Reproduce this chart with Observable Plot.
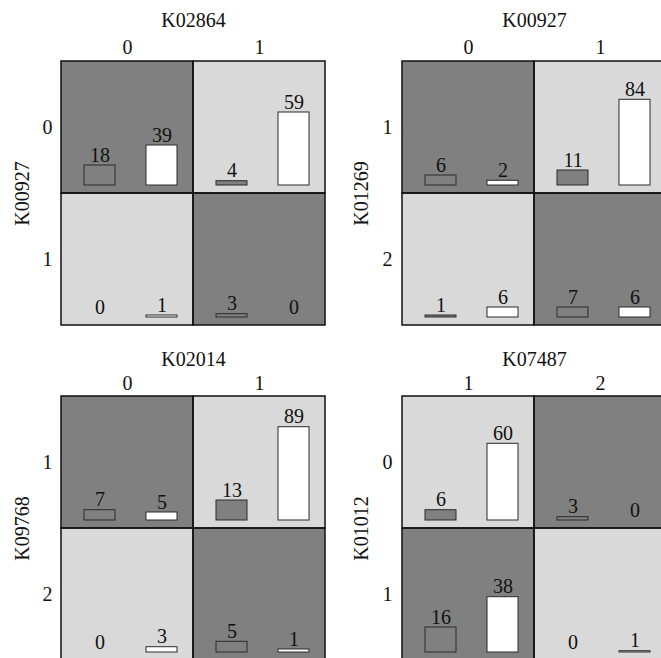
<!DOCTYPE html>
<html><head><meta charset="utf-8">
<script src="https://cdn.jsdelivr.net/npm/d3@7"></script>
<script src="https://cdn.jsdelivr.net/npm/@observablehq/plot@0.6"></script>
<style>
html,body{margin:0;padding:0;overflow:hidden;background:#fff;}
#root{position:relative;width:661px;height:658px;overflow:hidden;}
.panel{position:absolute;width:330px;height:330px;}
.panel svg{max-width:none !important;}
</style></head><body><div id="root"></div>
<script>
// ---- data ----
const colVars = ["K02864", "K00927", "K02014", "K07487"];
const rowVars = ["K00927", "K01269", "K09768", "K01012"];
const colLevels = [["0", "1"], ["0", "1"], ["0", "1"], ["1", "2"]];
const rowLevels = [["0", "1"], ["1", "2"], ["1", "2"], ["0", "1"]];
// cell order within each panel: row0/col0, row0/col1, row1/col0, row1/col1
const grayCounts  = [[18, 4, 0, 3], [6, 11, 1, 7], [7, 13, 0, 5], [6, 3, 16, 0]];
const whiteCounts = [[39, 59, 1, 0], [2, 84, 6, 6], [5, 89, 3, 1], [60, 0, 38, 1]];
// apparent bar lengths as drawn (not proportional to the printed counts)
const grayBarLen  = [[20, 4.3, 0, 3.3], [10, 15, 2, 10], [10.3, 20, 0, 10.7], [10.3, 3.3, 25, 0]];
const whiteBarLen = [[40, 73, 2, 0], [4.7, 85.7, 10, 10], [8, 93.3, 5.3, 3], [76.7, 0, 55.3, 1.3]];
const cellShade = [
  ["dark", "light", "light", "dark"],
  ["dark", "light", "light", "dark"],
  ["dark", "light", "light", "dark"],
  ["light", "dark", "dark", "light"]
];

// ---- layout ----
const root = document.getElementById("root");
const placements = [
  {left: 0, top: 0, mt: 61, ml: 61, titleOff: 48.5, tickPad: 8, ylabOff: 47, ytickPad: 9},
  {left: 340, top: 0, mt: 61, ml: 62, titleOff: 48.5, tickPad: 8, ylabOff: 48.5, ytickPad: 10},
  {left: 0, top: 335, mt: 61, ml: 61, titleOff: 44.5, tickPad: 7, ylabOff: 47, ytickPad: 9},
  {left: 340, top: 335, mt: 61, ml: 62, titleOff: 44.5, tickPad: 7, ylabOff: 48.5, ytickPad: 10}
];
const DARK = "#808080", LIGHT = "#d9d9d9";

colVars.forEach((cv, p) => {
  const cells = [];
  const bars = [];
  for (let k = 0; k < 4; k++) {
    const row = rowLevels[p][Math.floor(k / 2)];
    const col = colLevels[p][k % 2];
    cells.push({row, col, shade: cellShade[p][k]});
    bars.push({row, col, group: "g", count: grayCounts[p][k], len: grayBarLen[p][k]});
    bars.push({row, col, group: "w", count: whiteCounts[p][k], len: whiteBarLen[p][k]});
  }
  const pl = placements[p];
  const W = 330, H = 330;
  const chart = Plot.plot({
    width: W, height: H,
    marginTop: pl.mt, marginLeft: pl.ml,
    marginRight: W - pl.ml - 264, marginBottom: H - pl.mt - 264,
    style: {fontFamily: "'Liberation Serif', 'Times New Roman', serif", fontSize: "20px", color: "#111", background: "transparent", overflow: "visible", maxWidth: "none"},
    fx: {domain: colLevels[p], padding: 0, axis: "top", label: cv, labelAnchor: "center", tickSize: 0, tickPadding: pl.tickPad, labelOffset: pl.titleOff},
    fy: {domain: rowLevels[p], padding: 0, axis: "left", label: rowVars[p], labelAnchor: "center", tickSize: 0, tickPadding: pl.ytickPad, labelOffset: pl.ylabOff},
    x: {domain: ["g", "w"], paddingInner: 0.5, paddingOuter: 0.309, align: 0.586, axis: null},
    y: {domain: [0, 124], insetBottom: 8, axis: null},
    marks: [
      Plot.rect(cells.filter(d => d.shade === "dark"), {fx: "col", fy: "row", fill: DARK}),
      Plot.rect(cells.filter(d => d.shade === "light"), {fx: "col", fy: "row", fill: LIGHT}),
      Plot.barY(bars.filter(d => d.count > 0 && d.group === "g"), {fx: "col", fy: "row", x: "group", y: "len", fill: DARK, stroke: "#2a2a2a", strokeWidth: 1}),
      Plot.barY(bars.filter(d => d.count > 0 && d.group === "w"), {fx: "col", fy: "row", x: "group", y: "len", fill: "#ffffff", stroke: "#2a2a2a", strokeWidth: 1}),
      Plot.text(bars, {fx: "col", fy: "row", x: "group", y: "len", text: d => String(d.count), lineAnchor: "bottom", dy: -4, fill: "#111"}),
      Plot.rect(cells, {fx: "col", fy: "row", fill: "none", stroke: "#111", strokeWidth: 1.5})
    ]
  });
  const div = document.createElement("div");
  div.className = "panel";
  div.style.left = pl.left + "px";
  div.style.top = pl.top + "px";
  div.appendChild(chart);
  root.appendChild(div);
});
</script>
</body></html>
